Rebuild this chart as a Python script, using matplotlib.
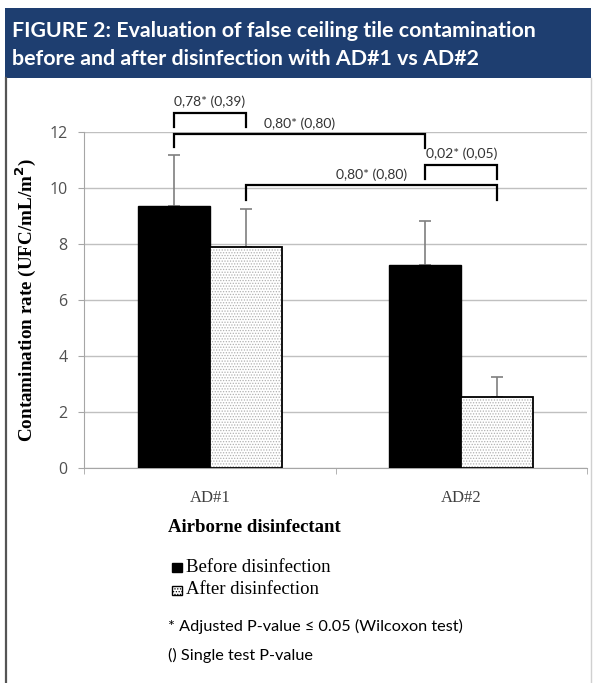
import matplotlib
matplotlib.use("Agg")
import matplotlib.pyplot as plt
import numpy as np
from matplotlib.patches import Rectangle

# --- data ---
categories = ["AD#1", "AD#2"]
before = [9.35, 7.22]
after = [7.88, 2.51]
before_err = [1.81, 1.58]   # upper error only
after_err = [1.35, 0.72]
y_ticks = [0, 2, 4, 6, 8, 10, 12]

# brackets: (bar index a, bar index b, line height, leg bottom a, leg bottom b, label)
# bar index: 0 = AD#1 before, 1 = AD#1 after, 2 = AD#2 before, 3 = AD#2 after
brackets = [
    (0, 1, 12.68, 12.18, 12.18, "0,78* (0,39)"),
    (0, 2, 11.90, 11.46, 11.40, "0,80* (0,80)"),
    (2, 3, 10.82, 10.30, 10.30, "0,02* (0,05)"),
    (1, 3, 10.09, 9.55, 9.55, "0,80* (0,80)"),
]

W, H = 595, 683
NAVY = "#1e3e70"
GRID = "#c0c0c0"
AXG = "#a6a6a6"
TXT = "#404040"

plt.rcParams["hatch.linewidth"] = 0.6

fig = plt.figure(figsize=(W / 100, H / 100), dpi=100)


def fx(px):
    return px / W


def fy(py):
    return 1 - py / H


# header band and frame
fig.patches.append(Rectangle((fx(5), fy(78)), fx(586), 70 / H, transform=fig.transFigure,
                             facecolor=NAVY, edgecolor="none", zorder=0))
fig.add_artist(plt.Line2D([fx(6), fx(6)], [fy(78), 0], transform=fig.transFigure,
                          color="#555555", lw=1.6))
fig.add_artist(plt.Line2D([fx(591), fx(591)], [fy(78), 0], transform=fig.transFigure,
                          color="#d0d0d0", lw=1.0))
fig.text(fx(12), fy(31), "FIGURE 2: Evaluation of false ceiling tile contamination",
         color="white", fontsize=15.4, fontweight="bold", family="Lato", va="center")
fig.text(fx(12), fy(59), "before and after disinfection with AD#1 vs AD#2",
         color="white", fontsize=15.4, fontweight="bold", family="Lato", va="center")

# main axes
ax = fig.add_axes([fx(84), fy(467.5), fx(587 - 84), (467.5 - 131.7) / H])
x = np.arange(len(categories))
w = 1 / 3.5
xb = x - w / 2
xa = x + w / 2

ax.bar(xb, before, w, color="black", edgecolor="black", lw=1, zorder=3)
ax.bar(xa, after, w, color="white", edgecolor="#b0b0b0", hatch="......", lw=0, zorder=3)
ax.bar(xa, after, w, fill=False, edgecolor="black", lw=1.3, zorder=4)
ax.errorbar(xb, before, yerr=[np.zeros(2), before_err], fmt="none", ecolor="#7f7f7f",
            elinewidth=1.2, capsize=4, capthick=1.2, zorder=2)
ax.errorbar(xa, after, yerr=[np.zeros(2), after_err], fmt="none", ecolor="#7f7f7f",
            elinewidth=1.2, capsize=4, capthick=1.2, zorder=2)

centers = [xb[0], xa[0], xb[1], xa[1]]
for a, b, h, la, lb, label in brackets:
    ax.plot([centers[a], centers[a], centers[b], centers[b]], [la, h, h, lb],
            color="black", lw=1.6, clip_on=False, zorder=5, solid_joinstyle="miter")
    ax.text((centers[a] + centers[b]) / 2, h + 0.38, label, ha="center", va="center",
            fontsize=10, family="Lato", color="#333333", clip_on=False)

ax.set_xlim(-0.5, 1.5)
ax.set_ylim(0, 12)
ax.set_yticks(y_ticks)
ax.set_xticks([-0.5, 0.5, 1.5], minor=True)
ax.set_xticks(x)
ax.set_xticklabels(categories, family="Liberation Serif", fontsize=12, color=TXT)
ax.tick_params(axis="x", which="major", length=0, pad=16)
ax.tick_params(axis="x", which="minor", length=4, color=AXG)
ax.tick_params(axis="y", length=4, color=AXG, labelsize=11.5, labelcolor="#505050", pad=8)
for lab in ax.get_yticklabels():
    lab.set_family("Open Sans")
ax.yaxis.grid(True, color=GRID, lw=1)
ax.set_axisbelow(True)
for s in ["top", "right"]:
    ax.spines[s].set_visible(False)
for s in ["left", "bottom"]:
    ax.spines[s].set_color(AXG)
ax.set_ylabel("Contamination rate (UFC/mL/m$^\\mathbf{2}$)", family="Liberation Serif",
              fontsize=13.8, fontweight="bold", labelpad=8)

# legend area
fig.text(fx(168), fy(527), "Airborne disinfectant", family="Liberation Serif",
         fontsize=13.5, fontweight="bold", va="center")
fig.patches.append(Rectangle((fx(172), fy(572)), fx(10), 9 / H, transform=fig.transFigure,
                             facecolor="black", edgecolor="black"))
fig.patches.append(Rectangle((fx(172), fy(595)), fx(10), 9 / H, transform=fig.transFigure,
                             facecolor="white", edgecolor="black", hatch="......", lw=1))
fig.text(fx(186), fy(567), "Before disinfection", family="Liberation Serif", fontsize=13.5,
         va="center")
fig.text(fx(186), fy(590), "After disinfection", family="Liberation Serif", fontsize=13.5,
         va="center")
fig.text(fx(168), fy(626), "* Adjusted P-value \u2264 0.05 (Wilcoxon test)", family="Lato",
         fontsize=11.7, va="center")
fig.text(fx(168), fy(655), "() Single test P-value", family="Lato", fontsize=11.7,
         va="center")

fig.savefig("out.png", dpi=100)
